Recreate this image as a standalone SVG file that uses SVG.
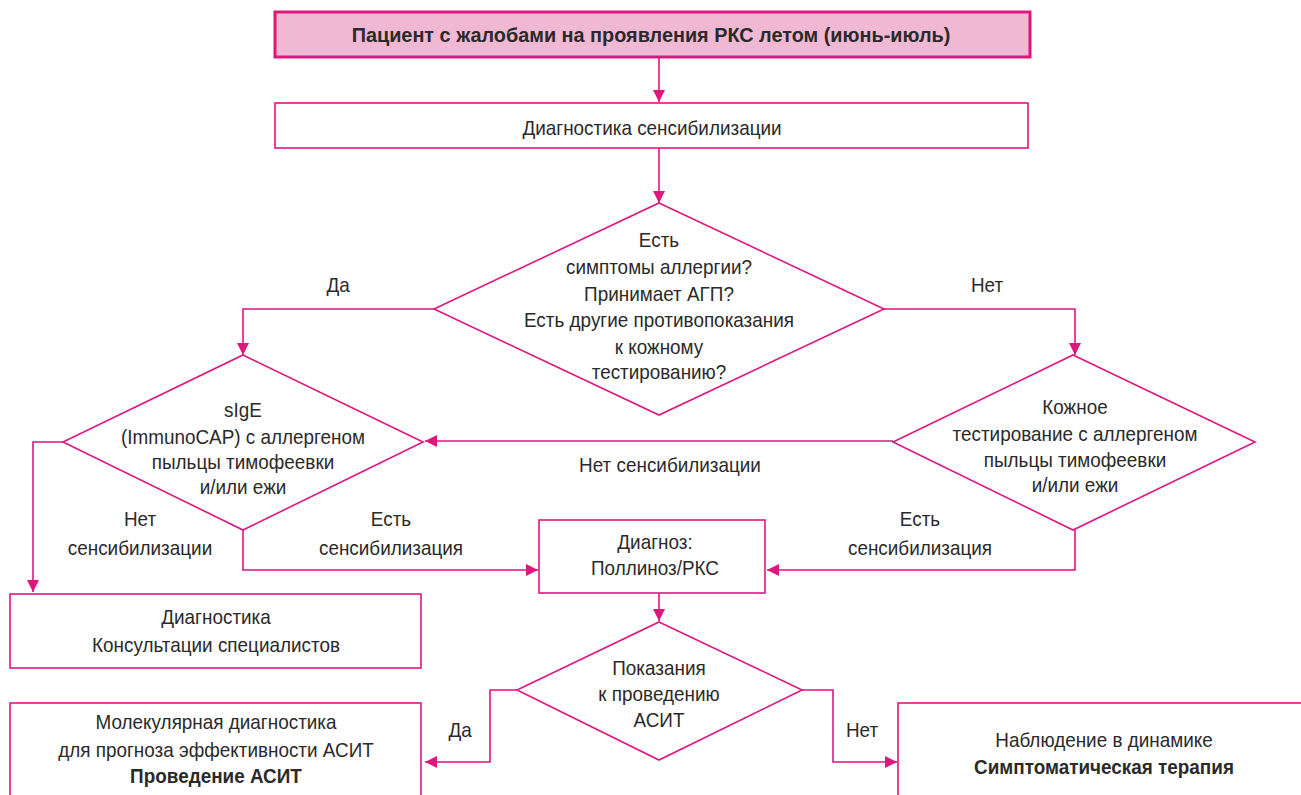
<svg xmlns="http://www.w3.org/2000/svg" width="1301" height="795" viewBox="0 0 1301 795">
<style>
.n{fill:#fff;stroke:#e0167f;stroke-width:1.6}
.t{font-family:"Liberation Sans",Arial,sans-serif;font-size:21px;fill:#2b2a2a;text-anchor:middle;transform-box:fill-box;transform-origin:center;transform:scaleX(0.9)}
.b{font-weight:bold}
.h{transform:scaleX(0.945)}
.c{fill:none;stroke:#e0167f;stroke-width:1.6}
</style>
<defs>
<marker id="a" viewBox="0 0 10 10" refX="10" refY="5" markerWidth="12" markerHeight="12" markerUnits="userSpaceOnUse" orient="auto">
<path d="M0,0 L10,5 L0,10 Z" fill="#e0167f"/>
</marker>
</defs>
<rect width="1301" height="795" fill="#fff"/>
<g id="connectors">
<path class="c" d="M659,58 V102" marker-end="url(#a)"/>
<path class="c" d="M659,148 V203" marker-end="url(#a)"/>
<path class="c" d="M434,309 H243 V355" marker-end="url(#a)"/>
<path class="c" d="M884,309 H1075 V355" marker-end="url(#a)"/>
<path class="c" d="M893,441 H425" marker-end="url(#a)"/>
<path class="c" d="M63,442 H33 V592" marker-end="url(#a)"/>
<path class="c" d="M243,530 V570 H538" marker-end="url(#a)"/>
<path class="c" d="M1075,530 V570 H767" marker-end="url(#a)"/>
<path class="c" d="M659,593 V621" marker-end="url(#a)"/>
<path class="c" d="M517,690 H490 V762 H425" marker-end="url(#a)"/>
<path class="c" d="M802,690 H833 V762 H897" marker-end="url(#a)"/>
<text class="t" x="338" y="292">Да</text>
<text class="t" x="987" y="292">Нет</text>
<text class="t" x="670" y="472">Нет сенсибилизации</text>
<text class="t" x="140" y="526">Нет</text>
<text class="t" x="140" y="555">сенсибилизации</text>
<text class="t" x="391" y="526">Есть</text>
<text class="t" x="391" y="555">сенсибилизация</text>
<text class="t" x="920" y="526">Есть</text>
<text class="t" x="920" y="555">сенсибилизация</text>
<text class="t" x="460" y="737">Да</text>
<text class="t" x="862" y="737">Нет</text>
</g>
<g id="start">
<rect x="275" y="12" width="755" height="45" fill="#f0b8d3" stroke="#e0167f" stroke-width="3"/>
<text class="t b h" x="651" y="42">Пациент с жалобами на проявления РКС летом (июнь-июль)</text>
</g>
<g id="diag">
<rect class="n" x="275" y="103" width="753" height="45"/>
<text class="t" x="652" y="135">Диагностика сенсибилизации</text>
</g>
<g id="q1">
<polygon class="n" points="659,203 884,309 659,415 434,309"/>
<text class="t" x="659" y="247">Есть</text>
<text class="t" x="659" y="274">симптомы аллергии?</text>
<text class="t" x="659" y="301">Принимает АГП?</text>
<text class="t" x="659" y="327">Есть другие противопоказания</text>
<text class="t" x="659" y="354">к кожному</text>
<text class="t" x="659" y="379">тестированию?</text>
</g>
<g id="sige">
<polygon class="n" points="243,355 423,442 243,530 63,442"/>
<text class="t" x="243" y="417">sIgE</text>
<text class="t" x="243" y="444">(ImmunoCAP) с аллергеном</text>
<text class="t" x="243" y="469">пыльцы тимофеевки</text>
<text class="t" x="243" y="494">и/или ежи</text>
</g>
<g id="skin">
<polygon class="n" points="1073,355 1255,442 1073,530 893,442"/>
<text class="t" x="1075" y="414">Кожное</text>
<text class="t" x="1075" y="441">тестирование с аллергеном</text>
<text class="t" x="1075" y="467">пыльцы тимофеевки</text>
<text class="t" x="1075" y="492">и/или ежи</text>
</g>
<g id="diagnosis">
<rect class="n" x="539" y="520" width="226" height="73"/>
<text class="t" x="655" y="549">Диагноз:</text>
<text class="t" x="655" y="575">Поллиноз/РКС</text>
</g>
<g id="q2">
<polygon class="n" points="659,622 802,690 659,760 517,690"/>
<text class="t" x="659" y="675">Показания</text>
<text class="t" x="659" y="701">к проведению</text>
<text class="t" x="659" y="727">АСИТ</text>
</g>
<g id="consult">
<rect class="n" x="10" y="594" width="411" height="74"/>
<text class="t" x="216" y="624">Диагностика</text>
<text class="t" x="216" y="652">Консультации специалистов</text>
</g>
<g id="asit">
<rect class="n" x="10" y="703" width="411" height="100"/>
<text class="t" x="216" y="729">Молекулярная диагностика</text>
<text class="t" x="216" y="757">для прогноза эффективности АСИТ</text>
<text class="t b" x="216" y="783">Проведение АСИТ</text>
</g>
<g id="observe">
<rect class="n" x="898" y="703" width="410" height="100"/>
<text class="t" x="1104" y="747">Наблюдение в динамике</text>
<text class="t b" x="1104" y="774">Симптоматическая терапия</text>
</g>
</svg>
